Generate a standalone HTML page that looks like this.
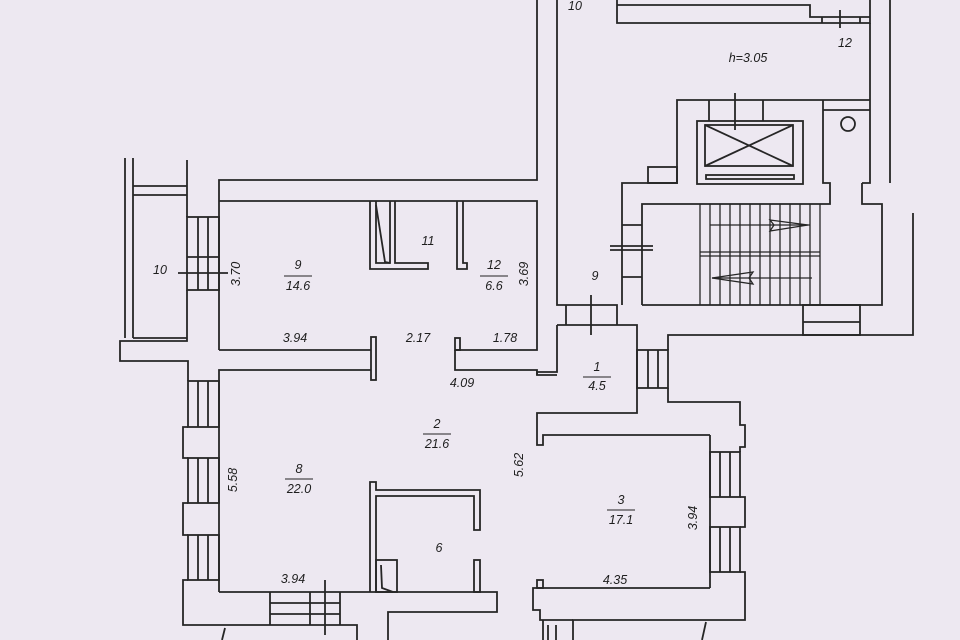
<!DOCTYPE html>
<html><head><meta charset="utf-8"><style>
html,body{margin:0;padding:0;background:#ede8f1;}
svg{display:block}
text{font-family:"Liberation Sans",sans-serif;font-style:italic;font-size:12.5px;fill:#1e1e1e;text-anchor:middle}
</style></head><body>
<svg width="960" height="640" viewBox="0 0 960 640" xmlns="http://www.w3.org/2000/svg">
<rect width="960" height="640" fill="#ede8f1"/>
<g fill="none" stroke="#262626" stroke-width="1.8">
<line x1="125" y1="158" x2="125" y2="338"/>
<line x1="133" y1="158" x2="133" y2="338"/>
<polyline points="187,160 187,217"/>
<line x1="133" y1="186" x2="187" y2="186"/>
<line x1="133" y1="195" x2="187" y2="195"/>
<line x1="133" y1="338" x2="187" y2="338"/>
<rect x="187" y="217" width="32" height="73"/>
<line x1="198" y1="217" x2="198" y2="290"/><line x1="208" y1="217" x2="208" y2="290"/>
<line x1="187" y1="257" x2="219" y2="257"/>
<line x1="178" y1="273" x2="228" y2="273"/>
<polyline points="187,290 187,341 120,341 120,361 188,361 188,381"/>
<polyline points="219,381 219,370 371,370"/>
<polyline points="219,350 219,180 537,180 537,0"/>
<polyline points="219,201 537,201 537,350 455,350"/>
<polyline points="371,350 219,350"/>
<rect x="371" y="337" width="5" height="43"/>
<rect x="455" y="338" width="5" height="12"/>
<polyline points="455,350 455,370 537,370 537,375 557,375"/>
<polyline points="370,201 370,269 428,269 428,263 395,263 395,201"/>
<polyline points="376,201 376,263 390,263 390,201"/>
<polyline points="376,205 385,262 390,263"/>
<polyline points="457,201 457,269 467,269 467,263 463,263 463,201"/>
<polyline points="557,0 557,305 617,305 617,325"/>
<line x1="566" y1="305" x2="566" y2="325"/>
<line x1="591" y1="295" x2="591" y2="335"/>
<polyline points="557,325 637,325 637,413 537,413 537,445 543,445 543,435 710,435"/>
<polyline points="557,325 557,372 537,372 537,375"/>
<rect x="637" y="350" width="31" height="38"/>
<line x1="648" y1="350" x2="648" y2="388"/><line x1="658" y1="350" x2="658" y2="388"/>
<polyline points="668,350 668,335 913,335 913,213"/>
<polyline points="668,388 668,402 740,402 740,425 745,425 745,447 740,447 740,452"/>
<rect x="710" y="452" width="30" height="45"/>
<line x1="720" y1="452" x2="720" y2="497"/><line x1="730" y1="452" x2="730" y2="497"/>
<polyline points="740,497 745,497 745,527 740,527"/>
<rect x="710" y="527" width="30" height="45"/>
<line x1="720" y1="527" x2="720" y2="572"/><line x1="730" y1="527" x2="730" y2="572"/>
<polyline points="740,572 745,572 745,620 573,620 573,640"/>
<line x1="710" y1="435" x2="710" y2="588"/>
<polyline points="710,588 533,588 533,610 540,610 540,620 573,620"/>
<rect x="537" y="580" width="6" height="8"/>
<polyline points="543,620 543,640"/>
<line x1="548" y1="625" x2="548" y2="640"/><line x1="556" y1="625" x2="556" y2="640"/>
<line x1="706" y1="622" x2="702" y2="640"/>
<rect x="188" y="381" width="31" height="46"/>
<line x1="198" y1="381" x2="198" y2="427"/><line x1="208" y1="381" x2="208" y2="427"/>
<polyline points="188,427 183,427 183,458 188,458"/>
<rect x="188" y="458" width="31" height="45"/>
<line x1="198" y1="458" x2="198" y2="503"/><line x1="208" y1="458" x2="208" y2="503"/>
<polyline points="188,503 183,503 183,535 188,535"/>
<rect x="188" y="535" width="31" height="45"/>
<line x1="198" y1="535" x2="198" y2="580"/><line x1="208" y1="535" x2="208" y2="580"/>
<polyline points="188,580 183,580 183,625 357,625 357,640"/>
<line x1="219" y1="381" x2="219" y2="592"/>
<polyline points="219,592 497,592 497,612 388,612 388,640"/>
<line x1="225" y1="628" x2="222" y2="640"/>
<line x1="270" y1="592" x2="270" y2="625"/><line x1="340" y1="592" x2="340" y2="625"/>
<line x1="270" y1="603" x2="340" y2="603"/><line x1="270" y1="614" x2="340" y2="614"/>
<line x1="310" y1="592" x2="310" y2="625"/>
<line x1="325" y1="580" x2="325" y2="635"/>
<polyline points="370,592 370,482 376,482 376,490 480,490 480,530 474,530 474,496 376,496 376,592"/>
<rect x="474" y="560" width="6" height="32"/>
<rect x="376" y="560" width="21" height="32"/>
<polyline points="381,565 382,588 393,592"/>
<polyline points="617,0 617,23 870,23 870,0"/>
<polyline points="617,5 810,5 810,17 870,17"/>
<line x1="822" y1="17" x2="822" y2="23"/><line x1="860" y1="17" x2="860" y2="23"/>
<line x1="840" y1="10" x2="840" y2="28"/>
<line x1="870" y1="23" x2="870" y2="100"/>
<line x1="890" y1="0" x2="890" y2="183"/>
<polyline points="870,100 677,100 677,183 622,183 622,305"/>
<polyline points="642,305 642,204 830,204 830,183 823,183 823,100"/>
<polyline points="862,183 862,204 882,204 882,305 642,305"/>
<polyline points="862,183 870,183 870,100"/>
<line x1="823" y1="110" x2="870" y2="110"/>
<circle cx="848" cy="124" r="7"/>
<rect x="697" y="121" width="106" height="63"/>
<rect x="705" y="125" width="88" height="41"/>
<line x1="705" y1="125" x2="793" y2="166"/><line x1="793" y1="125" x2="705" y2="166"/>
<rect x="706" y="175" width="88" height="4"/>
<line x1="709" y1="100" x2="709" y2="121"/><line x1="763" y1="100" x2="763" y2="121"/>
<line x1="735" y1="93" x2="735" y2="130"/>
<rect x="648" y="167" width="29" height="16"/>
<line x1="622" y1="225" x2="642" y2="225"/><line x1="622" y1="277" x2="642" y2="277"/>
<line x1="610" y1="246" x2="653" y2="246"/><line x1="610" y1="250" x2="653" y2="250"/>
<rect x="803" y="305" width="57" height="30"/>
<line x1="803" y1="322" x2="860" y2="322"/>
</g>
<g stroke="#262626" stroke-width="1.3" fill="none">
<line x1="700" y1="252" x2="820" y2="252"/><line x1="700" y1="256" x2="820" y2="256"/>
<path d="M700 204V305M710 204V305M720 204V305M730 204V305M740 204V305M750 204V305M760 204V305M770 204V305M780 204V305M790 204V305M800 204V305M810 204V305M820 204V305"/>
<line x1="710" y1="225" x2="810" y2="225"/>
<path d="M770 220L808 225L770 231L774 225Z"/>
<line x1="712" y1="278" x2="812" y2="278"/>
<path d="M753 272L712 278L753 284L749 278Z"/>
</g>
<text x="575" y="10" font-size="15">10</text>
<text x="845" y="47" font-size="16">12</text>
<text x="748" y="62" font-size="13">h=3.05</text>
<text x="160" y="274">10</text>
<text x="240" y="274" transform="rotate(-90 240 274)">3.70</text>
<text x="298" y="269">9</text>
<text x="298" y="290">14.6</text>
<line x1="284" y1="276" x2="312" y2="276" stroke="#222"/>
<text x="428" y="245">11</text>
<text x="494" y="269">12</text>
<text x="494" y="290">6.6</text>
<line x1="480" y1="276" x2="508" y2="276" stroke="#222"/>
<text x="528" y="274" transform="rotate(-90 528 274)">3.69</text>
<text x="595" y="280" font-size="17">9</text>
<text x="295" y="342" font-size="11.5">3.94</text>
<text x="418" y="342" font-size="11.5">2.17</text>
<text x="505" y="342" font-size="11.5">1.78</text>
<text x="462" y="387" font-size="11.5">4.09</text>
<text x="597" y="371">1</text>
<text x="597" y="390">4.5</text>
<line x1="583" y1="377" x2="611" y2="377" stroke="#222"/>
<text x="437" y="428">2</text>
<text x="437" y="448">21.6</text>
<line x1="423" y1="434" x2="451" y2="434" stroke="#222"/>
<text x="523" y="465" font-size="11.5" transform="rotate(-90 523 465)">5.62</text>
<text x="237" y="480" font-size="11.5" transform="rotate(-90 237 480)">5.58</text>
<text x="299" y="473">8</text>
<text x="299" y="493">22.0</text>
<line x1="285" y1="479" x2="313" y2="479" stroke="#222"/>
<text x="621" y="504">3</text>
<text x="621" y="524">17.1</text>
<line x1="607" y1="510" x2="635" y2="510" stroke="#222"/>
<text x="697" y="518" font-size="11.5" transform="rotate(-90 697 518)">3.94</text>
<text x="439" y="552">6</text>
<text x="293" y="583" font-size="11.5">3.94</text>
<text x="615" y="584" font-size="11.5">4.35</text>
</svg>
</body></html>
